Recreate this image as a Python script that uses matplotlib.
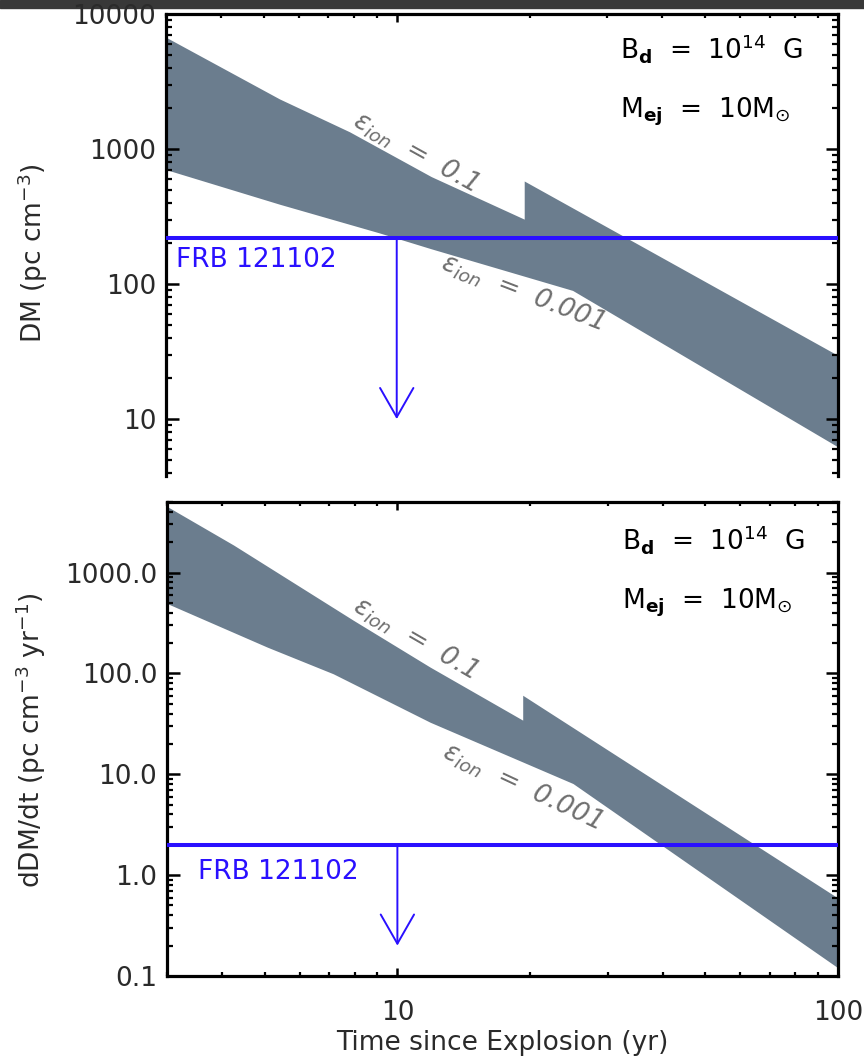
import numpy as np
import matplotlib
matplotlib.use("Agg")
import matplotlib.pyplot as plt
from matplotlib import ticker
from matplotlib.patches import Rectangle

# ---- data -------------------------------------------------------------
# DM band: upper edge (eps_ion = 0.1) and lower edge (eps_ion = 0.001)
t_dm_hi = [3.0, 5.44, 7.84, 12.0, 19.5, 19.5, 100.0]
dm_hi = [6700, 2330, 1330, 620, 300, 575, 29.5]
t_dm_lo = [3.0, 5.44, 9.17, 12.0, 25.1, 100.0]
dm_lo = [700, 387, 237, 181, 89, 6.2]

# dDM/dt band
t_rate_hi = [3.0, 4.26, 7.96, 11.9, 19.3, 19.3, 100.0]
rate_hi = [4500, 1850, 333, 114, 34, 60, 0.59]
t_rate_lo = [3.0, 5.08, 7.17, 11.9, 25.1, 100.0]
rate_lo = [490, 180, 98, 32.4, 8.0, 0.12]

# FRB 121102 limits
frb_t = 10.0
frb_dm = 220.0
frb_dm_arrow_end = 10.0
frb_rate = 2.0
frb_rate_arrow_end = 0.2

x_range = (3.0, 100.0)
dm_range = (3.79, 1.0e4)
rate_range = (0.1, 5000.0)

# ---- styling ----------------------------------------------------------
band_color = "#6b7d8e"
frb_color = "#2a10ff"
label_gray = "#6e6e6e"
FS = 19
plt.rcParams["font.family"] = ["DejaVu Sans"]
plt.rcParams["mathtext.fontset"] = "dejavusans"
plt.rcParams["text.color"] = "#222222"

W, H = 864, 1057
fig = plt.figure(figsize=(W / 100, H / 100), dpi=100)

# thin dark strip along the top edge
fig.patches.append(Rectangle((0, 1 - 8 / H), 1, 8 / H, transform=fig.transFigure,
                             color="#383838", zorder=-1))

ax1 = fig.add_axes([166 / W, 1 - 476 / H, 672 / W, 462 / H])
ax2 = fig.add_axes([167 / W, 1 - 976 / H, 671 / W, 474 / H])


def style_axis(ax, yfmt, show_bottom=True):
    ax.set_xscale("log")
    ax.set_yscale("log")
    for side in ("left", "right", "top", "bottom"):
        ax.spines[side].set_linewidth(2.3)
        ax.spines[side].set_color("black")
    ax.tick_params(axis="both", which="both", direction="in",
                   top=True, right=True, bottom=show_bottom,
                   labelbottom=show_bottom, colors="black",
                   labelcolor="#2a2a2a", labelsize=FS)
    ax.tick_params(axis="y", which="major", length=9, width=1.8, pad=7)
    ax.tick_params(axis="y", which="minor", length=4.5, width=1.6)
    ax.tick_params(axis="x", which="major", length=6, width=1.8, pad=17)
    ax.tick_params(axis="x", which="minor", length=3, width=1.6)
    ax.xaxis.set_major_formatter(ticker.FuncFormatter(lambda v, p: f"{v:g}"))
    ax.xaxis.set_minor_formatter(ticker.NullFormatter())
    ax.yaxis.set_major_locator(ticker.LogLocator(base=10, numticks=20))
    ax.yaxis.set_minor_locator(ticker.LogLocator(base=10, subs=np.arange(2, 10), numticks=20))
    ax.yaxis.set_major_formatter(ticker.FormatStrFormatter(yfmt))
    ax.yaxis.set_minor_formatter(ticker.NullFormatter())
    if not show_bottom:
        ax.spines["bottom"].set_visible(False)


def draw_band(ax, t_hi, v_hi, t_lo, v_lo):
    xs = np.concatenate([t_hi, t_lo[::-1]])
    ys = np.concatenate([v_hi, v_lo[::-1]])
    ax.fill(xs, ys, color=band_color, lw=0, zorder=1)


def draw_limit(ax, level, arrow_end):
    ax.axhline(level, color=frb_color, lw=2.9, zorder=3)
    ax.annotate("", xy=(frb_t, arrow_end), xytext=(frb_t, level),
                arrowprops=dict(arrowstyle="->,head_length=1.05,head_width=0.6",
                                color=frb_color, lw=1.4, shrinkA=0, shrinkB=0,
                                mutation_scale=20), zorder=3)


def draw_params(ax, yb, ym, x0):
    ax.text(x0, yb, r"B$_{\mathbf{d}}$  =  10$^{14}$  G", transform=ax.transAxes,
            fontsize=FS, color="black", ha="left", va="baseline")
    ax.text(x0, ym, r"M$_{\mathbf{ej}}$  =  10M$_{\odot}$", transform=ax.transAxes,
            fontsize=FS, color="black", ha="left", va="baseline")


def draw_eps(ax, p_hi, rot_hi, p_lo, rot_lo):
    ax.text(p_hi[0], p_hi[1], r"$\varepsilon_{ion}$  =  0.1", transform=ax.transAxes,
            fontsize=FS, color=label_gray, style="italic", rotation=rot_hi,
            rotation_mode="anchor", ha="center", va="center", zorder=4)
    ax.text(p_lo[0], p_lo[1], r"$\varepsilon_{ion}$  =  0.001", transform=ax.transAxes,
            fontsize=FS, color=label_gray, style="italic", rotation=rot_lo,
            rotation_mode="anchor", ha="center", va="center", zorder=4)


# ---- top panel: DM ----------------------------------------------------
style_axis(ax1, "%d", show_bottom=False)
draw_band(ax1, t_dm_hi, dm_hi, t_dm_lo, dm_lo)
draw_limit(ax1, frb_dm, frb_dm_arrow_end)
ax1.set_xlim(*x_range)
ax1.set_ylim(*dm_range)
ax1.text(0.015, 0.452, "FRB 121102", transform=ax1.transAxes, fontsize=FS,
         color=frb_color, ha="left", va="baseline")
draw_params(ax1, 0.903, 0.775, 0.676)
draw_eps(ax1, (0.371, 0.70), -29, (0.530, 0.396), -21)
ax1.set_ylabel(r"DM (pc cm$^{-3}$)", fontsize=FS, color="#2a2a2a")
ax1.yaxis.set_label_coords(-0.173, 0.483)

# ---- bottom panel: dDM/dt --------------------------------------------
style_axis(ax2, "%.1f", show_bottom=True)
draw_band(ax2, t_rate_hi, rate_hi, t_rate_lo, rate_lo)
draw_limit(ax2, frb_rate, frb_rate_arrow_end)
ax2.set_xlim(*x_range)
ax2.set_ylim(*rate_range)
ax2.text(0.046, 0.205, "FRB 121102", transform=ax2.transAxes, fontsize=FS,
         color=frb_color, ha="left", va="baseline")
draw_params(ax2, 0.899, 0.776, 0.678)
draw_eps(ax2, (0.370, 0.713), -30, (0.529, 0.399), -25)
ax2.set_ylabel(r"dDM/dt (pc cm$^{-3}$ yr$^{-1}$)", fontsize=FS, color="#2a2a2a")
ax2.yaxis.set_label_coords(-0.177, 0.498)
ax2.set_xlabel("Time since Explosion (yr)", fontsize=FS, color="#2a2a2a")
ax2.xaxis.set_label_coords(0.5, -0.113)

fig.savefig("out.png", dpi=100)
